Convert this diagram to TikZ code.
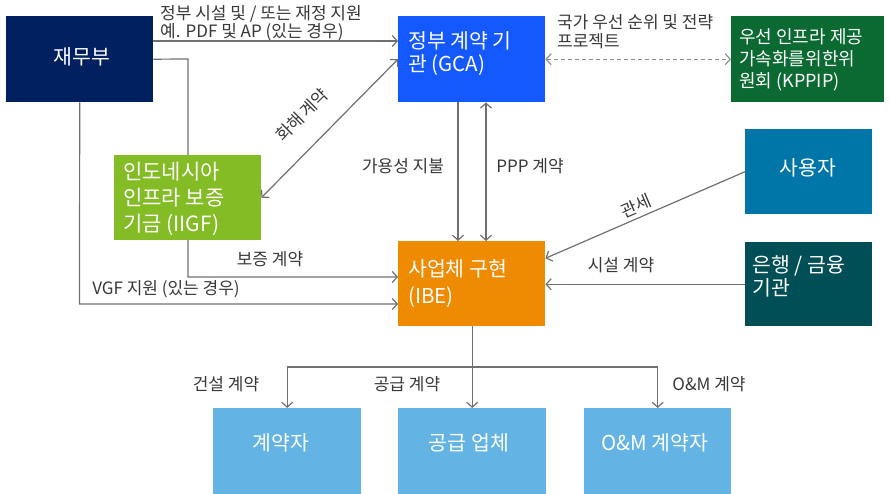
\documentclass[tikz,border=0pt]{standalone}
\usepackage{fontspec}
\setmainfont{Noto Sans CJK KR}
\usetikzlibrary{arrows.meta}
\definecolor{cmof}{RGB}{0,32,96}
\definecolor{cgca}{RGB}{20,88,255}
\definecolor{ckppip}{RGB}{10,106,50}
\definecolor{ciigf}{RGB}{132,188,38}
\definecolor{cuser}{RGB}{0,118,168}
\definecolor{cbank}{RGB}{0,78,86}
\definecolor{cibe}{RGB}{238,139,0}
\definecolor{clight}{RGB}{99,180,228}
\definecolor{cline}{RGB}{112,112,112}
\definecolor{clbl}{RGB}{56,56,56}
\pgfdeclarelayer{bg}\pgfsetlayers{bg,main}
\begin{document}
\begin{tikzpicture}[x=1pt,y=-1pt,
  box/.style={draw=none,inner sep=0,anchor=north west,minimum width=147pt,minimum height=86pt},
  btxt/.style={text=white,inner sep=0,align=left,anchor=west,font=\fontsize{20.5}{23}\selectfont},
  ctxt/.style={text=white,inner sep=0,anchor=center,font=\fontsize{20.5}{23}\selectfont},
  lbl/.style={text=clbl,inner sep=0,align=left,font=\fontsize{17}{19}\selectfont},
  conn/.style={draw=cline,line width=1.2pt},
  arr/.style={conn,-{Straight Barb[length=5pt,width=11pt]}},
  dbl/.style={conn,{Straight Barb[length=5pt,width=11pt]}-{Straight Barb[length=5pt,width=11pt]}},
]
\path[use as bounding box,clip] (0,0) rectangle (890,494);

% boxes
\node[box,fill=cmof] (mof) at (6,16) {};
\node[box,fill=cgca] (gca) at (398,16) {};
\node[box,fill=ckppip,minimum width=153pt] (kppip) at (731,16) {};
\node[box,fill=ciigf,minimum height=85pt] (iigf) at (114,155) {};
\node[box,fill=cuser,minimum width=127pt,minimum height=85pt] (user) at (745,129) {};
\node[box,fill=cbank,minimum width=127pt,minimum height=84pt] (bank) at (745,242) {};
\node[box,fill=cibe,minimum height=85pt] (ibe) at (398,241) {};
\node[box,fill=clight,minimum width=148pt,minimum height=100pt] (con) at (213,408) {};
\node[box,fill=clight,minimum width=148pt,minimum height=100pt] (sup) at (398,408) {};
\node[box,fill=clight,minimum width=147pt,minimum height=100pt] (om) at (584,408) {};

% box texts
\node[ctxt] (moft) at (82,57) {재무부};
\node[btxt] (gcat) at (408,54) {정부 계약 기\\관 (GCA)};
\node[btxt,font=\fontsize{18}{22}\selectfont] (kppipt) at (739,60) {우선 인프라 제공\\가속화를위한위\\원회 (KPPIP)};
\node[btxt,font=\fontsize{21}{26}\selectfont] (iigft) at (123,199) {인도네시아\\인프라 보증\\기금 (IIGF)};
\node[ctxt] (usert) at (808,168) {사용자};
\node[btxt] (bankt) at (752,276) {은행 / 금융\\기관};
\node[btxt,font=\fontsize{20.5}{27}\selectfont] (ibet) at (408,284) {사업체 구현\\(IBE)};
\node[ctxt] (cont) at (281,443) {계약자};
\node[ctxt] (supt) at (469,443) {공급 업체};
\node[ctxt] (omt) at (655,443) {O\&M 계약자};

% connector behind IIGF
\begin{pgfonlayer}{bg}
\draw[arr] (mof.east) -- (188,59) -- (188,277) -- (ibe.west |- 0,277);
\end{pgfonlayer}

% connectors
\draw[arr] (mof.east |- 0,41) -- (gca.west |- 0,41);
\draw[arr] (mof.south) -- (79.5,304) -- (ibe.west |- 0,304);
\draw[dbl] (iigf.east) -- (gca.west);
\draw[dbl,dash pattern=on 4pt off 3pt,draw=cline!80] (gca.east) -- (kppip.west);
\draw[arr] (gca.south -| 458,0) -- (ibe.north -| 458,0);
\draw[dbl] (gca.south -| 486,0) -- (ibe.north -| 486,0);
\draw[arr] (user.west) -- (ibe.19);
\draw[arr] (bank.west) -- (ibe.east |- bank.west);
\coordinate (bus) at (472.5,367);
\draw[arr] (ibe.south -| sup.north) -- (sup.north);
\draw[arr] (bus) -| (con.north);
\draw[arr] (bus) -| (om.north);

% labels
\node[lbl,anchor=west,font=\fontsize{17}{18}\selectfont] (l1) at (160,23) {정부 시설 및 / 또는 재정 지원\\예. PDF 및 AP (있는 경우)};
\node[lbl,rotate=45] (l2) at (302,115) {화해 계약};
\node[lbl,anchor=west,font=\fontsize{17}{19}\selectfont] (l3) at (557,31.5) {국가 우선 순위 및 전략\\프로젝트};
\node[lbl] (l4) at (403,166) {가용성 지불};
\node[lbl] (l5) at (530,166) {PPP 계약};
\node[lbl,rotate=23.4] (l6) at (636,206) {관세};
\node[lbl] (l7) at (270,259) {보증 계약};
\node[lbl] (l8) at (166,289) {VGF 지원 (있는 경우)};
\node[lbl] (l9) at (621,265) {시설 계약};
\node[lbl] (l10) at (226,384) {건설 계약};
\node[lbl] (l11) at (407,384) {공급 계약};
\node[lbl] (l12) at (709,384) {O\&M 계약};
\end{tikzpicture}
\end{document}
